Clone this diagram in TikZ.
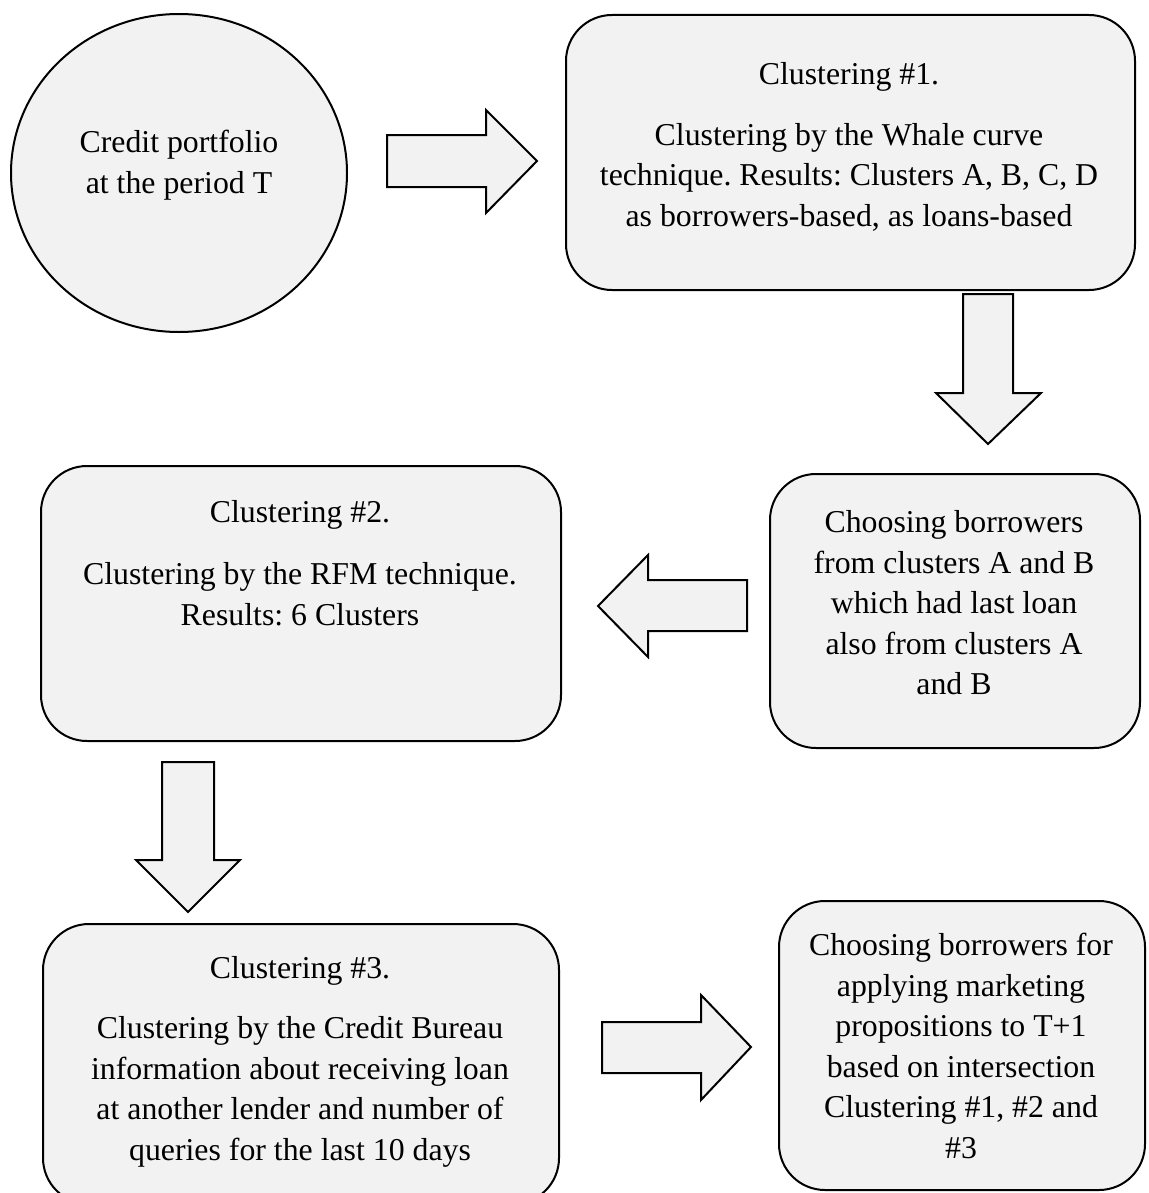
\documentclass[tikz,border=0pt]{standalone}
\usepackage{fontspec}
\setmainfont{Liberation Serif}
\usetikzlibrary{shapes.geometric}
\definecolor{boxgray}{HTML}{F2F2F2}
\frenchspacing
\begin{document}
\frenchspacing
\begin{tikzpicture}[x=0.5pt,y=-0.5pt,
  box/.style={draw=black, line width=1pt, fill=boxgray, rounded corners=23pt, inner sep=0pt, anchor=north west},
  oval/.style={draw=black, line width=1pt, fill=boxgray, ellipse, inner sep=0pt},
  txt/.style={align=center, font=\fontsize{15.9pt}{20.25pt}\selectfont, inner sep=0pt},
  blockarrow/.style={draw=black, line width=1pt, fill=boxgray, line join=miter}
]
\useasboundingbox (0,0) rectangle (1149,1193);
\clip (0,0) rectangle (1149,1193);

% shapes
\node[oval, minimum width=168pt, minimum height=159pt] (start) at (179,173) {};
\node[box, minimum width=284.5pt, minimum height=137.5pt] (c1) at (565,14) {};
\node[box, minimum width=185pt, minimum height=137pt] (pick) at (769,473) {};
\node[box, minimum width=260pt, minimum height=137.5pt] (c2) at (40,465) {};
\node[box, minimum width=258pt, minimum height=140pt] (c3) at (42,923) {};
\node[box, minimum width=183pt, minimum height=144.5pt] (final) at (778,900) {};

% texts
\node[txt] (startT) at (179,165) {Credit portfolio\\at the period T};
\node[txt] (c1T) at (849,77) {Clustering \#1.};
\node[txt] (c1B) at (849,177) {Clustering by the Whale curve\\technique. Results: Clusters A, B, C, D\\as borrowers-based, as loans-based};
\node[txt] (pickT) at (954,603) {Choosing borrowers\\from clusters A and B\\which had last loan\\also from clusters A\\and B};
\node[txt] (c2T) at (300,515) {Clustering \#2.};
\node[txt] (c2B) at (300,594) {Clustering by the RFM technique.\\Results: 6 Clusters};
\node[txt] (c3T) at (300,971) {Clustering \#3.};
\node[txt] (c3B) at (300,1092) {Clustering by the Credit Bureau\\information about receiving loan\\at another lender and number of\\queries for the last 10 days};
\node[txt] (finalT) at (961,1046) {Choosing borrowers for\\applying marketing\\propositions to T+1\\based on intersection\\Clustering \#1, \#2 and\\\#3};

% block arrows
\draw[blockarrow] (387,135) -- (486,135) -- (486,110) -- (537,161) -- (486,213) -- (486,187) -- (387,187) -- cycle;
\draw[blockarrow] (963,294) -- (1013,294) -- (1013,393) -- (1041,393) -- (988,444) -- (936,393) -- (963,393) -- cycle;
\draw[blockarrow] (747,580) -- (648,580) -- (648,555) -- (598,606) -- (648,657) -- (648,631) -- (747,631) -- cycle;
\draw[blockarrow] (162,762) -- (214,762) -- (214,860) -- (240,860) -- (188,912) -- (136,860) -- (162,860) -- cycle;
\draw[blockarrow] (602,1022) -- (701,1022) -- (701,995) -- (751,1047) -- (701,1100) -- (701,1073) -- (602,1073) -- cycle;
\end{tikzpicture}
\end{document}
